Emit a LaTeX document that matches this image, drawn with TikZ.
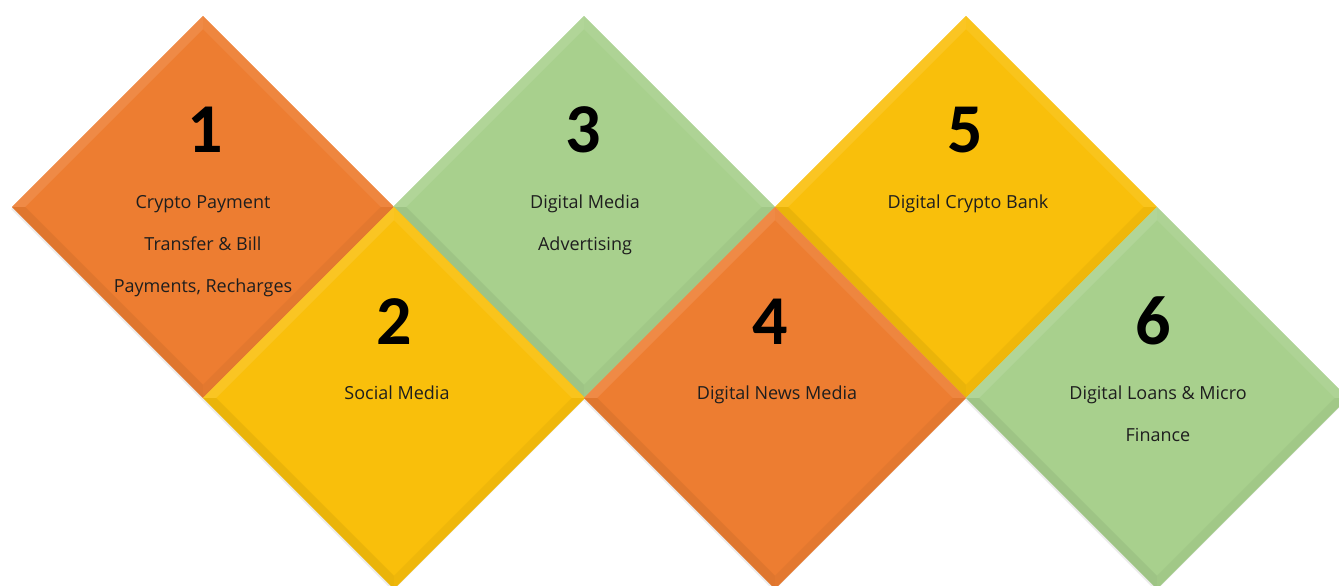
\documentclass[tikz,border=0pt]{standalone}
\usepackage{fontspec}
\setmainfont{Open Sans}
\newfontfamily\numfont{Carlito}
\usetikzlibrary{shapes.geometric,calc,backgrounds}
\definecolor{cOrange}{HTML}{ED7D31}
\definecolor{cYellow}{HTML}{F9BF0B}
\definecolor{cGreen}{HTML}{A8D08D}
\definecolor{txt}{HTML}{1E1E1E}
\def\bev{13}
\newcommand\mytile[4]{%
  \node[tileshape, fill=#4] (#1) at (#2,#3) {};
  \coordinate (#1n) at ($(#1.north)+(0,\bev)$);
  \coordinate (#1s) at ($(#1.south)+(0,-\bev)$);
  \coordinate (#1w) at ($(#1.west)+(\bev,0)$);
  \coordinate (#1e) at ($(#1.east)+(-\bev,0)$);
  \fill[#4!90!white] (#1.north) -- (#1.west) -- (#1w) -- (#1n) -- cycle;
  \fill[#4!93!white] (#1.north) -- (#1.east) -- (#1e) -- (#1n) -- cycle;
  \fill[#4!94!black] (#1.west) -- (#1.south) -- (#1s) -- (#1w) -- cycle;
  \fill[#4!96!black] (#1.east) -- (#1.south) -- (#1s) -- (#1e) -- cycle;
  \begin{scope}[on background layer]
    \fill[black, opacity=0.08] ($(#1.north)+(-1,2)$) -- ($(#1.east)+(-1,2)$) -- ($(#1.south)+(-1,2)$) -- ($(#1.west)+(-1,2)$) -- cycle;
  \end{scope}
}
\tikzset{
  tileshape/.style={diamond, aspect=1, minimum width=381.6pt, minimum height=381.6pt, inner sep=0pt, outer sep=0pt},
  num/.style={anchor=base, inner sep=0pt, font=\numfont\bfseries\fontsize{70}{70}\selectfont, text=black},
  lbl/.style={anchor=base, inner sep=0pt, font=\fontsize{18}{18}\selectfont, text=txt},
}
\begin{document}
\begin{tikzpicture}[x=1pt,y=-1pt]
\useasboundingbox (0,0) rectangle (1339,586);
\clip (0,0) rectangle (1339,586);
\mytile{d1}{203}{207}{cOrange}
\mytile{d3}{584}{207}{cGreen}
\mytile{d5}{966}{207}{cYellow}
\mytile{d2}{394}{398}{cYellow}
\mytile{d4}{775}{398}{cOrange}
\mytile{d6}{1157}{398}{cGreen}

\node[num] (n1) at (205,152) {1};
\node[num] (n2) at (394,344) {2};
\node[num] (n3) at (583,152) {3};
\node[num] (n4) at (770,344) {4};
\node[num] (n5) at (965,152) {5};
\node[num] (n6) at (1153,344) {6};

\node[lbl] (l1a) at (203,208) {Crypto Payment};
\node[lbl] (l1b) at (203,250) {Transfer \& Bill};
\node[lbl] (l1c) at (203,292) {Payments, Recharges};
\node[lbl] (l2a) at (397,399) {Social Media};
\node[lbl] (l3a) at (585,208) {Digital Media};
\node[lbl] (l3b) at (585,250) {Advertising};
\node[lbl] (l4a) at (777,399) {Digital News Media};
\node[lbl] (l5a) at (968,208) {Digital Crypto Bank};
\node[lbl] (l6a) at (1158,399) {Digital Loans \& Micro};
\node[lbl] (l6b) at (1158,441) {Finance};
\end{tikzpicture}
\end{document}
